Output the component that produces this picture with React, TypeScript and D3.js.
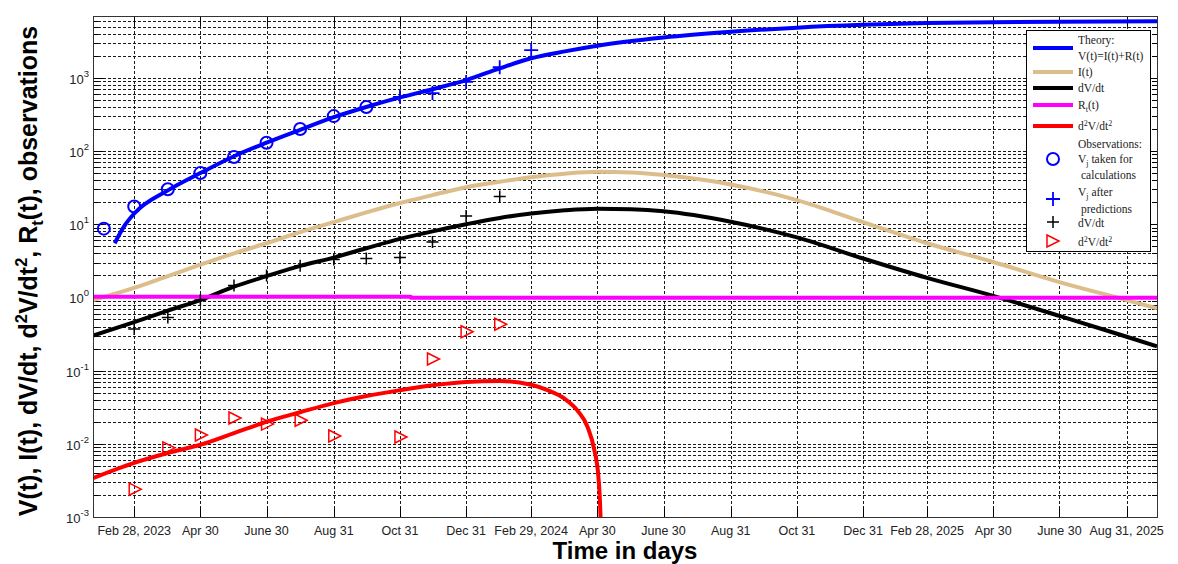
import React from 'react';
import * as d3 from 'd3';

const W = 1178;
const H = 564;
const left = 93, right = 1157, top = 16, bottom = 517;

const parse = d3.utcParse('%Y-%m-%d');

// axis range
const xStart = '2023-01-21';
const xEnd = '2025-09-28';
const yMin = 1e-3;
const yMax = 7000;

const tickDates = [
  '2023-02-28', '2023-04-30', '2023-06-30', '2023-08-31', '2023-10-31', '2023-12-31',
  '2024-02-29', '2024-04-30', '2024-06-30', '2024-08-31', '2024-10-31', '2024-12-31',
  '2025-02-28', '2025-04-30', '2025-06-30', '2025-08-31',
];
const tickLabels = [
  'Feb 28, 2023', 'Apr 30', 'June 30', 'Aug 31', 'Oct 31', 'Dec 31',
  'Feb 29, 2024', 'Apr 30', 'June 30', 'Aug 31', 'Oct 31', 'Dec 31',
  'Feb 28, 2025', 'Apr 30', 'June 30', 'Aug 31, 2025',
];
const yDecades = [-3, -2, -1, 0, 1, 2, 3];

// theory curves
const theoryV: [string, number][] = [
  ['2023-02-10', 5.5], ['2023-02-20', 10], ['2023-02-28', 14], ['2023-03-31', 29],
  ['2023-04-30', 50], ['2023-05-31', 85], ['2023-06-30', 130], ['2023-07-31', 195],
  ['2023-08-31', 290], ['2023-09-30', 400], ['2023-10-31', 540], ['2023-11-30', 700],
  ['2023-12-31', 930], ['2024-01-31', 1350], ['2024-02-29', 1850], ['2024-03-31', 2300],
  ['2024-04-30', 2750], ['2024-06-30', 3550], ['2024-08-31', 4250], ['2024-10-31', 4850],
  ['2024-12-31', 5300], ['2025-02-28', 5600], ['2025-04-30', 5750], ['2025-06-30', 5850],
  ['2025-09-28', 5950],
];
const theoryI: [string, number][] = [
  ['2023-01-21', 0.92], ['2023-02-28', 1.35], ['2023-03-31', 1.95], ['2023-04-30', 2.8],
  ['2023-05-31', 4.0], ['2023-06-30', 5.5], ['2023-07-31', 7.8], ['2023-08-31', 10.7],
  ['2023-09-30', 14.5], ['2023-10-31', 19.5], ['2023-11-30', 25], ['2023-12-31', 32],
  ['2024-01-31', 38], ['2024-02-29', 44], ['2024-03-31', 49], ['2024-04-30', 52],
  ['2024-05-31', 51], ['2024-06-30', 47], ['2024-08-31', 35], ['2024-10-31', 21.4],
  ['2024-12-31', 10.7], ['2025-02-28', 5.5], ['2025-04-30', 3.05], ['2025-06-30', 1.62],
  ['2025-08-31', 0.92], ['2025-09-28', 0.71],
];
const theoryDV: [string, number][] = [
  ['2023-01-21', 0.30], ['2023-02-28', 0.46], ['2023-03-31', 0.66], ['2023-04-30', 0.92],
  ['2023-05-31', 1.4], ['2023-06-30', 1.95], ['2023-07-31', 2.7], ['2023-08-31', 3.5],
  ['2023-09-30', 4.7], ['2023-10-31', 6.3], ['2023-11-30', 8.0], ['2023-12-31', 10.0],
  ['2024-01-31', 12.2], ['2024-02-29', 14.0], ['2024-03-31', 15.5], ['2024-04-30', 16.3],
  ['2024-05-31', 16.0], ['2024-06-30', 15.0], ['2024-08-31', 10.8], ['2024-10-31', 6.6],
  ['2024-12-31', 3.4], ['2025-02-28', 1.85], ['2025-04-30', 1.05], ['2025-06-30', 0.56],
  ['2025-08-31', 0.29], ['2025-09-28', 0.215],
];
const theoryRt: [string, number][] = [
  ['2023-01-21', 1.02], ['2023-11-10', 1.02], ['2023-11-10', 0.99], ['2025-09-28', 0.99],
];
const theoryD2V: [string, number][] = [
  ['2023-01-21', 0.0034], ['2023-02-28', 0.0055], ['2023-03-31', 0.0075], ['2023-04-30', 0.0097],
  ['2023-05-31', 0.014], ['2023-06-30', 0.02], ['2023-07-31', 0.027], ['2023-08-31', 0.036],
  ['2023-09-30', 0.045], ['2023-10-31', 0.054], ['2023-11-30', 0.063], ['2023-12-31', 0.07],
  ['2024-01-31', 0.072], ['2024-02-29', 0.064], ['2024-03-15', 0.054], ['2024-03-31', 0.041],
  ['2024-04-12', 0.028], ['2024-04-21', 0.017], ['2024-04-27', 0.0085], ['2024-05-01', 0.0035],
  ['2024-05-03', 0.0009], ['2024-05-04', 0.0001],
];

// observations
const obsCalc: [string, number][] = [
  ['2023-01-31', 8.7], ['2023-02-28', 17.5], ['2023-03-31', 30], ['2023-04-30', 50],
  ['2023-05-31', 83], ['2023-06-30', 130], ['2023-07-31', 200], ['2023-08-31', 300],
  ['2023-09-30', 400],
];
const obsPred: [string, number][] = [
  ['2023-10-31', 550], ['2023-11-30', 620], ['2023-12-31', 880], ['2024-01-31', 1400],
  ['2024-02-29', 2400],
];
const obsDV: [string, number][] = [
  ['2023-02-28', 0.37], ['2023-03-31', 0.53], ['2023-04-30', 0.92], ['2023-05-31', 1.45],
  ['2023-06-30', 2.0], ['2023-07-31', 2.7], ['2023-08-31', 3.3], ['2023-09-30', 3.4],
  ['2023-10-31', 3.5], ['2023-11-30', 5.7], ['2023-12-31', 13], ['2024-01-31', 24],
];
const obsD2V: [string, number][] = [
  ['2023-02-28', 0.0024], ['2023-03-31', 0.0088], ['2023-04-30', 0.0132], ['2023-05-31', 0.0225],
  ['2023-06-30', 0.0186], ['2023-07-31', 0.021], ['2023-08-31', 0.0128], ['2023-10-31', 0.0124],
  ['2023-11-30', 0.144], ['2023-12-31', 0.34], ['2024-01-31', 0.43],
];

const BLUE = '#0000ff';
const TAN = '#dcbd8c';
const BLACK = '#000000';
const MAGENTA = '#ff00ff';
const RED = '#ff0000';

const plusPath = (s: number) => `M${-s},0H${s}M0,${-s}V${s}`;
const triPath = 'M-5,-6L7,0L-5,6Z';

export default function App() {
  const x = d3.scaleUtc().domain([parse(xStart)!, parse(xEnd)!]).range([left, right]);
  const y = d3.scaleLog().domain([yMin, yMax]).range([bottom, top]);

  const line = d3.line<[string, number]>()
    .x(d => x(parse(d[0])!))
    .y(d => y(d[1]))
    .curve(d3.curveMonotoneX);
  const lineLin = d3.line<[string, number]>()
    .x(d => x(parse(d[0])!))
    .y(d => y(d[1]));

  const gridVals: number[] = [];
  yDecades.forEach(k => {
    for (let m = 1; m <= 9; m++) {
      const v = m * Math.pow(10, k);
      if (v <= yMax) gridVals.push(v);
    }
  });

  const px = (d: [string, number]) => x(parse(d[0])!);
  const py = (d: [string, number]) => y(d[1]);

  const axisFont = 'Arial, "Liberation Sans", sans-serif';
  const legFont = '"Liberation Serif", "Times New Roman", serif';
  const lx0 = 1033, lx1 = 1073, ltx = 1078;

  return (
    <svg width={W} height={H} style={{ position: 'absolute', left: 0, top: 0, background: '#fff' }}>
      <defs>
        <clipPath id="plot">
          <rect x={left} y={top} width={right - left} height={bottom - top} />
        </clipPath>
      </defs>
      <rect x={0} y={0} width={W} height={H} fill="#fff" />

      {/* grid */}
      <g stroke="#1a1a1a" strokeWidth={1} strokeDasharray="3,2" shapeRendering="crispEdges">
        {gridVals.map((v, i) => (
          <line key={'h' + i} x1={left} x2={right} y1={Math.round(y(v)) + 0.5} y2={Math.round(y(v)) + 0.5} />
        ))}
        {tickDates.map(d => (
          <line key={'v' + d} x1={Math.round(x(parse(d)!)) + 0.5} x2={Math.round(x(parse(d)!)) + 0.5} y1={top} y2={bottom} />
        ))}
      </g>

      {/* ticks */}
      <g stroke="#000" strokeWidth={1} shapeRendering="crispEdges">
        {tickDates.map(d => {
          const xx = Math.round(x(parse(d)!)) + 0.5;
          return (
            <g key={'t' + d}>
              <line x1={xx} x2={xx} y1={bottom} y2={bottom - 10} />
              <line x1={xx} x2={xx} y1={top} y2={top + 10} />
            </g>
          );
        })}
        {gridVals.map((v, i) => {
          const yy = Math.round(y(v)) + 0.5;
          const major = Math.abs(Math.log10(v) - Math.round(Math.log10(v))) < 1e-9;
          const len = major ? 10 : 5;
          return (
            <g key={'yt' + i}>
              <line x1={left} x2={left + len} y1={yy} y2={yy} />
              <line x1={right} x2={right - len} y1={yy} y2={yy} />
            </g>
          );
        })}
      </g>

      {/* curves */}
      <g clipPath="url(#plot)" fill="none" strokeWidth={4} strokeLinejoin="round">
        <path d={line(theoryI)!} stroke={TAN} />
        <path d={line(theoryDV)!} stroke={BLACK} />
        <path d={lineLin(theoryRt)!} stroke={MAGENTA} />
        <path d={line(theoryD2V)!} stroke={RED} />
        <path d={line(theoryV)!} stroke={BLUE} />
      </g>

      {/* markers */}
      <g fill="none">
        {obsCalc.map((d, i) => (
          <circle key={'c' + i} cx={px(d)} cy={py(d)} r={6} stroke={BLUE} strokeWidth={2} />
        ))}
        {obsPred.map((d, i) => (
          <path key={'p' + i} d={plusPath(7)} transform={`translate(${px(d)},${py(d)})`} stroke={BLUE} strokeWidth={1.8} />
        ))}
        {obsDV.map((d, i) => (
          <path key={'k' + i} d={plusPath(6)} transform={`translate(${px(d)},${py(d)})`} stroke={BLACK} strokeWidth={1.5} />
        ))}
        {obsD2V.map((d, i) => (
          <path key={'r' + i} d={triPath} transform={`translate(${px(d)},${py(d)})`} stroke={RED} strokeWidth={1.5} />
        ))}
      </g>

      {/* axes box */}
      <rect x={left + 0.5} y={top + 0.5} width={right - left} height={bottom - top} fill="none" stroke="#333" strokeWidth={1} shapeRendering="crispEdges" />

      {/* x tick labels */}
      <g fontFamily={axisFont} fontSize={12.5} fill="#222" textAnchor="middle">
        {tickDates.map((d, i) => (
          <text key={'xl' + d} x={x(parse(d)!)} y={535}>{tickLabels[i]}</text>
        ))}
      </g>

      {/* y tick labels */}
      <g fontFamily={axisFont} fill="#222" textAnchor="end">
        {yDecades.map(k => (
          <text key={'yl' + k} x={89} y={y(Math.pow(10, k)) + 6} fontSize={13}>
            10<tspan dy={-7} fontSize={9.5}>{k}</tspan>
          </text>
        ))}
      </g>

      {/* axis titles */}
      <text x={(left + right) / 2} y={559} textAnchor="middle" fontFamily={axisFont} fontWeight="bold" fontSize={24}>
        Time in days
      </text>
      <text transform={`translate(37,271) rotate(-90)`} textAnchor="middle" fontFamily={axisFont} fontWeight="bold" fontSize={25}>
        V(t), I(t), dV/dt, d<tspan dy={-10} fontSize={16.5}>2</tspan><tspan dy={10}>V/dt</tspan><tspan dy={-10} fontSize={16.5}>2</tspan><tspan dy={10}>, R</tspan><tspan dy={6} fontSize={16.5}>t</tspan><tspan dy={-6}>(t), observations</tspan>
      </text>

      {/* legend */}
      <g fontFamily={legFont} fontSize={11.5} fill="#222">
        <rect x={1026.5} y={30.5} width={124} height={221} fill="#fff" stroke="#000" strokeWidth={1} shapeRendering="crispEdges" />
        <g strokeWidth={4}>
          <line x1={lx0} x2={lx1} y1={48} y2={48} stroke={BLUE} />
          <line x1={lx0} x2={lx1} y1={72} y2={72} stroke={TAN} />
          <line x1={lx0} x2={lx1} y1={88} y2={88} stroke={BLACK} />
          <line x1={lx0} x2={lx1} y1={105} y2={105} stroke={MAGENTA} />
          <line x1={lx0} x2={lx1} y1={126} y2={126} stroke={RED} />
        </g>
        <text x={ltx} y={44}>Theory:</text>
        <text x={ltx} y={60}>V(t)=I(t)+R(t)</text>
        <text x={ltx} y={76}>I(t)</text>
        <text x={ltx} y={92}>dV/dt</text>
        <text x={ltx} y={109}>R<tspan dy={3} fontSize={8}>t</tspan><tspan dy={-3}>(t)</tspan></text>
        <text x={ltx} y={130}>d<tspan dy={-4} fontSize={8}>2</tspan><tspan dy={4}>V/dt</tspan><tspan dy={-4} fontSize={8}>2</tspan></text>
        <circle cx={1053} cy={159} r={6} fill="none" stroke={BLUE} strokeWidth={2} />
        <text x={ltx} y={148}>Observations:</text>
        <text x={ltx} y={163}>V<tspan dy={3} fontSize={8}>j</tspan><tspan dy={-3}> taken for</tspan></text>
        <text x={ltx + 3} y={179}>calculations</text>
        <path d={plusPath(7)} transform="translate(1053,199)" stroke={BLUE} strokeWidth={1.8} fill="none" />
        <text x={ltx} y={196}>V<tspan dy={3} fontSize={8}>j</tspan><tspan dy={-3}> after</tspan></text>
        <text x={ltx + 3} y={213}>predictions</text>
        <path d={plusPath(6)} transform="translate(1053,222)" stroke={BLACK} strokeWidth={1.5} fill="none" />
        <text x={ltx} y={227}>dV/dt</text>
        <path d={triPath} transform="translate(1052,241)" stroke={RED} strokeWidth={1.5} fill="none" />
        <text x={ltx} y={246}>d<tspan dy={-4} fontSize={8}>2</tspan><tspan dy={4}>V/dt</tspan><tspan dy={-4} fontSize={8}>2</tspan></text>
      </g>
    </svg>
  );
}
